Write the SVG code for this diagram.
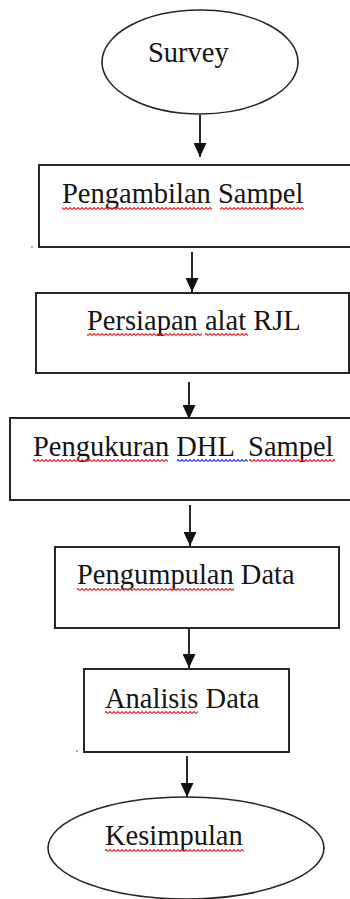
<svg xmlns="http://www.w3.org/2000/svg" width="350" height="899" viewBox="0 0 350 899">
  <style>
    .shape { fill: #ffffff; stroke: #262626; stroke-width: 2; }
    .oval { fill: #ffffff; stroke: #262626; stroke-width: 1.6; }
    .lbl { font-family: "Liberation Serif", "Times New Roman", serif; font-size: 28.5px; fill: #141414; }
    .conn { stroke: #111111; stroke-width: 1.8; fill: none; }
    .dot { fill: #888888; }
  </style>
  <defs>
    <marker id="arrow" viewBox="0 0 14 13" refX="14" refY="6.5" markerWidth="14" markerHeight="13" markerUnits="userSpaceOnUse" orient="auto">
      <path d="M0,0 L14,6.5 L0,13 z" fill="#111111"/>
    </marker>
    <pattern id="sqRed" width="4" height="3" patternUnits="userSpaceOnUse">
      <path d="M0,2.5 L2,0.5 L4,2.5" fill="none" stroke="#e8262b" stroke-width="1.1"/>
    </pattern>
    <pattern id="sqBlue" width="4" height="3" patternUnits="userSpaceOnUse">
      <path d="M0,2.5 L2,0.5 L4,2.5" fill="none" stroke="#2a3cf0" stroke-width="1.1"/>
    </pattern>
  </defs>

  <g id="connectors">
    <line class="conn" x1="200" y1="115" x2="200" y2="157" marker-end="url(#arrow)"/>
    <line class="conn" x1="192" y1="252" x2="192" y2="292" marker-end="url(#arrow)"/>
    <line class="conn" x1="189" y1="382" x2="189" y2="419" marker-end="url(#arrow)"/>
    <line class="conn" x1="190" y1="505" x2="190" y2="546" marker-end="url(#arrow)"/>
    <line class="conn" x1="189" y1="628" x2="189" y2="668" marker-end="url(#arrow)"/>
    <line class="conn" x1="187" y1="756" x2="187" y2="797" marker-end="url(#arrow)"/>
  </g>

  <g id="survey">
    <ellipse class="oval" cx="200" cy="62" rx="98" ry="52"/>
    <text class="lbl" x="148" y="62">Survey</text>
  </g>

  <g id="pengambilan-sampel">
    <rect class="shape" x="39" y="165" width="314" height="82"/>
    <text class="lbl" x="62" y="203">Pengambilan Sampel</text>
  </g>

  <g id="persiapan-alat">
    <rect class="shape" x="36" y="293" width="313" height="80"/>
    <text class="lbl" x="87" y="330">Persiapan alat RJL</text>
  </g>

  <g id="pengukuran-dhl">
    <rect class="shape" x="10" y="418" width="343" height="82"/>
    <text class="lbl" x="33" y="456" xml:space="preserve">Pengukuran DHL  Sampel</text>
  </g>

  <g id="pengumpulan-data">
    <rect class="shape" x="55" y="547" width="284" height="81"/>
    <text class="lbl" x="77" y="584">Pengumpulan Data</text>
  </g>

  <g id="analisis-data">
    <rect class="shape" x="84" y="669" width="205" height="83"/>
    <text class="lbl" x="105" y="708">Analisis Data</text>
  </g>

  <g id="kesimpulan">
    <ellipse class="oval" cx="186" cy="848" rx="138" ry="51"/>
    <text class="lbl" x="105" y="845">Kesimpulan</text>
  </g>

  <g id="spellcheck-underlines">
    <rect x="62" y="207" width="150" height="3" fill="url(#sqRed)"/>
    <rect x="220" y="207" width="84" height="3" fill="url(#sqRed)"/>
    <rect x="87" y="333" width="115" height="3" fill="url(#sqRed)"/>
    <rect x="205" y="333" width="43" height="3" fill="url(#sqRed)"/>
    <rect x="33" y="459" width="135" height="3" fill="url(#sqRed)"/>
    <rect x="177" y="459" width="71" height="3" fill="url(#sqBlue)"/>
    <rect x="249" y="459" width="86" height="3" fill="url(#sqRed)"/>
    <rect x="77" y="588" width="157" height="3" fill="url(#sqRed)"/>
    <rect x="105" y="711" width="93" height="3" fill="url(#sqRed)"/>
    <rect x="105" y="849" width="139" height="3" fill="url(#sqRed)"/>
  </g>

  <circle class="dot" cx="32" cy="247" r="0.9"/>
  <circle class="dot" cx="77" cy="751" r="0.9"/>
</svg>
